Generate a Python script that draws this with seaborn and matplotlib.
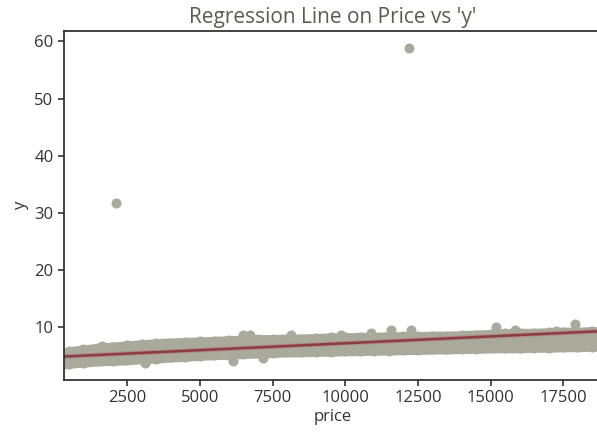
import numpy as np
import pandas as pd
import matplotlib
matplotlib.use("Agg")
import matplotlib.pyplot as plt
import seaborn as sns

# values (diamonds: price vs y)
band_price = [326, 500, 1000, 1500, 2000, 2500, 3000, 3500, 4000, 4500, 5000,
              5500, 6000, 6500, 7000, 7500, 8000, 8500, 9000, 9500, 10000,
              10500, 11000, 11500, 12000, 12500, 13000, 13500, 14000, 14500,
              15000, 15500, 16000, 16500, 17000, 17500, 18000, 18500, 18823]
band_top = [6.3, 6.6, 6.9, 7.2, 7.4, 7.6, 7.8, 8.0, 8.1, 8.2, 8.3,
            8.4, 8.5, 8.6, 8.7, 8.7, 8.8, 8.8, 8.9, 9.0, 9.0,
            9.1, 9.1, 9.2, 9.2, 9.2, 9.3, 9.3, 9.4, 9.5,
            9.6, 9.7, 9.8, 9.8, 9.9, 10.0, 10.0, 10.1, 10.1]
band_bottom = [2.7, 2.8, 3.0, 3.2, 3.3, 3.4, 3.6, 3.7, 3.9, 4.0, 4.2,
               4.3, 4.4, 4.5, 4.6, 4.7, 4.8, 4.8, 4.9, 4.9, 5.0,
               5.0, 5.1, 5.1, 5.2, 5.2, 5.3, 5.3, 5.4, 5.4,
               5.5, 5.5, 5.5, 5.6, 5.6, 5.7, 5.7, 5.8, 5.8]

# single points sticking out of the band, plus the two big outliers
extra_price = [1650, 3120, 6130, 6470, 6710, 7160, 8150, 9860, 10890,
               11575, 12260, 15170, 15850, 17260, 17910, 2130, 12210]
extra_y = [6.7, 3.7, 4.0, 8.7, 8.6, 4.6, 8.7, 8.6, 8.9,
           9.5, 9.5, 10.0, 9.5, 9.3, 10.5, 31.8, 58.9]

# regression line end points
line_price = [326, 18823]
line_y = [4.85, 9.3]

point_col = '#a9a99c'
line_col = '#8a3e40'

plt.rcParams['font.family'] = ['Open Sans', 'DejaVu Sans']

edge = pd.DataFrame({'price': band_price + band_price,
                     'y': [t - 0.8 for t in band_top] + [b + 0.8 for b in band_bottom]})
extra = pd.DataFrame({'price': extra_price, 'y': extra_y})
line = pd.DataFrame({'price': line_price, 'y': line_y})

fig, ax = plt.subplots(figsize=(5.97, 4.33), dpi=100)
fig.subplots_adjust(left=0.107, right=1.008, bottom=0.1224, top=0.928)

# dense body of the cloud
ax.fill_between(band_price, band_bottom, band_top, color=point_col, lw=0)
sns.scatterplot(data=edge, x='price', y='y', color=point_col, s=52,
                linewidth=0, ax=ax)
sns.scatterplot(data=extra, x='price', y='y', color=point_col, s=52,
                linewidth=0, ax=ax)

# regression line
sns.lineplot(data=line, x='price', y='y', color='#b08a85', lw=3.2, ax=ax)
sns.lineplot(data=line, x='price', y='y', color=line_col, lw=1.8, ax=ax)

ax.set_xlim(326, 18823)
ax.set_ylim(0.75, 61.8)
ax.set_xticks([2500, 5000, 7500, 10000, 12500, 15000, 17500])
ax.set_yticks([10, 20, 30, 40, 50, 60])
ax.tick_params(labelsize=12, colors='#333333', length=4, width=1.2)
for s in ax.spines.values():
    s.set_color('#333333')
    s.set_linewidth(1.3)
ax.set_xlabel('price', fontsize=12, color='#333333', labelpad=2)
ax.set_ylabel('y', fontsize=12, color='#333333')
ax.set_title("Regression Line on Price vs 'y'", fontsize=15, color='#5b5b4f')

fig.savefig('out.png', dpi=100)
